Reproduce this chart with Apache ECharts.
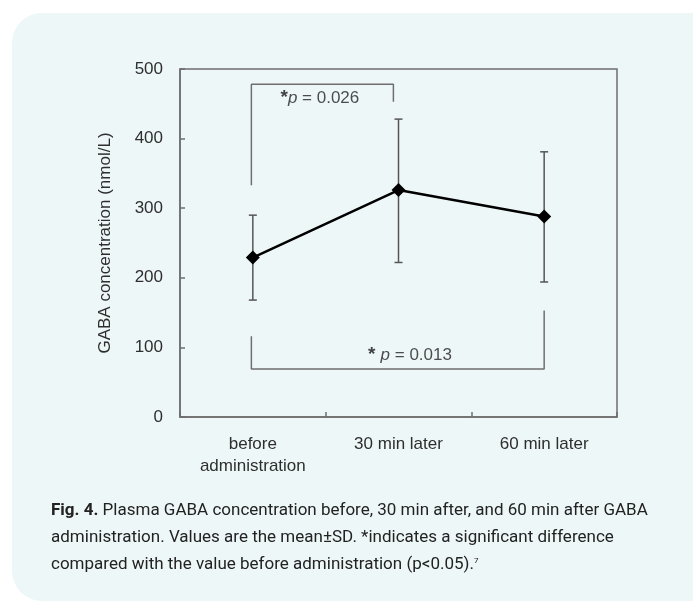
<!DOCTYPE html>
<html>
<head>
<meta charset="utf-8">
<script src="https://cdn.jsdelivr.net/npm/echarts@6/dist/echarts.min.js"></script>
<style>
html,body{margin:0;padding:0;background:#ffffff;}
#chart{width:693px;height:602px;}
</style>
</head>
<body>
<div id="chart"></div>
<script>
// ---- data ----
var categories = ['before\nadministration', '30 min later', '60 min later'];
var means = [229, 326, 288];
var sdLow = [168, 222, 194];
var sdHigh = [290, 428, 381];
var yMin = 0, yMax = 500, yInterval = 100;
// significance brackets (x in category-units 0..3, y in nmol/L)
var bracket1X = [0.49, 0.49, 1.465, 1.465];
var bracket1Y = [333, 478, 478, 453];
var bracket2X = [0.49, 0.49, 2.5, 2.5];
var bracket2Y = [116, 69, 69, 153];
var sigLabels = [
  { x: 0.69, y: 458, star: '*', p: 'p', rest: ' = 0.026' },
  { x: 1.29, y: 89, star: '* ', p: 'p', rest: ' = 0.013' }
];
var captionLines = [
  ['Fig. 4.', ' Plasma GABA concentration before, 30 min after, and 60 min after GABA'],
  ['', 'administration. Values are the mean±SD. *indicates a significant difference'],
  ['', 'compared with the value before administration (p<0.05).']
];

var axisColor = '#6e6e6e';
var textColor = '#2e2e2e';
var fontFam = '"Liberation Sans", Arial, Helvetica, sans-serif';

function zip(xs, ys) { return xs.map(function (x, i) { return [x, ys[i]]; }); }

var errData = categories.map(function (c, i) { return [i, sdLow[i], sdHigh[i]]; });

var chart = echarts.init(document.getElementById('chart'));

var graphics = [
  {
    type: 'rect', z: -10, silent: true,
    shape: { x: 12, y: 13, width: 720, height: 588, r: 30 },
    style: { fill: '#eef7f8' }
  }
];
var capY = [511, 538, 565];
captionLines.forEach(function (ln, i) {
  var txt = (ln[0] ? '{b|' + ln[0] + '}' : '') + '{n|' + ln[1] + '}' + (i === 2 ? '{sup|7}' : '');
  graphics.push({
    type: 'text', z: 10,
    style: {
      x: 51, y: capY[i], text: txt, verticalAlign: 'middle',
      rich: {
        b: { fontFamily: 'Roboto, sans-serif', fontSize: 17, fontWeight: 'bold', fill: '#222222' },
        n: { fontFamily: 'Roboto, sans-serif', fontSize: 17, fill: '#222222' },
        sup: { fontFamily: 'Roboto, sans-serif', fontSize: 8, fill: '#222222', verticalAlign: 'top', padding: [0, 0, 9, 0] }
      }
    }
  });
});

var option = {
  animation: false,
  backgroundColor: 'transparent',
  graphic: graphics,
  grid: { left: 180, top: 69, width: 437, height: 348, show: true, borderColor: axisColor, borderWidth: 1.5, backgroundColor: 'transparent' },
  xAxis: [
    {
      type: 'category', data: categories, boundaryGap: true,
      axisLine: { show: true, lineStyle: { color: axisColor, width: 1.5 } },
      axisTick: { show: true, inside: true, length: 5, lineStyle: { color: axisColor, width: 1.5 } },
      axisLabel: { color: textColor, fontFamily: fontFam, fontSize: 17, margin: 16, lineHeight: 22 },
      splitLine: { show: false }
    },
    {
      type: 'value', min: 0, max: 3, show: false, position: 'bottom'
    }
  ],
  yAxis: {
    type: 'value', min: yMin, max: yMax, interval: yInterval,
    name: 'GABA concentration (nmol/L)', nameLocation: 'middle', nameGap: 66,
    nameTextStyle: { color: textColor, fontFamily: fontFam, fontSize: 17 },
    axisLine: { show: true, lineStyle: { color: axisColor, width: 1.5 } },
    axisTick: { show: true, inside: true, length: 5, lineStyle: { color: axisColor, width: 1.5 } },
    axisLabel: { color: textColor, fontFamily: fontFam, fontSize: 17, margin: 17 },
    splitLine: { show: false }
  },
  series: [
    {
      type: 'custom', xAxisIndex: 0, z: 2, data: errData,
      renderItem: function (params, api) {
        var x = api.value(0);
        var lo = api.coord([x, api.value(1)]);
        var hi = api.coord([x, api.value(2)]);
        var w = 4;
        var st = { stroke: '#555555', lineWidth: 1.5 };
        return {
          type: 'group', children: [
            { type: 'line', shape: { x1: lo[0], y1: lo[1], x2: hi[0], y2: hi[1] }, style: st },
            { type: 'line', shape: { x1: lo[0] - w, y1: lo[1], x2: lo[0] + w, y2: lo[1] }, style: st },
            { type: 'line', shape: { x1: hi[0] - w, y1: hi[1], x2: hi[0] + w, y2: hi[1] }, style: st }
          ]
        };
      }
    },
    {
      type: 'line', xAxisIndex: 0, z: 5, data: means,
      symbol: 'diamond', symbolSize: 14, showSymbol: true,
      lineStyle: { color: '#000000', width: 2.5 },
      itemStyle: { color: '#000000' }
    },
    {
      type: 'line', xAxisIndex: 1, z: 3, data: zip(bracket1X, bracket1Y),
      symbol: 'none', lineStyle: { color: axisColor, width: 1.5 }
    },
    {
      type: 'line', xAxisIndex: 1, z: 3, data: zip(bracket2X, bracket2Y),
      symbol: 'none', lineStyle: { color: axisColor, width: 1.5 }
    },
    {
      type: 'scatter', xAxisIndex: 1, z: 6, symbolSize: 0,
      data: sigLabels.map(function (s) { return { value: [s.x, s.y] }; }),
      label: {
        show: true, position: 'right', distance: 0,
        formatter: function (p) {
          var s = sigLabels[p.dataIndex];
          return '{st|' + s.star + '}{it|' + s.p + '}{n|' + s.rest + '}';
        },
        rich: {
          st: { fontFamily: fontFam, fontSize: 19, color: '#111', fontWeight: 'bold' },
          it: { fontFamily: fontFam, fontSize: 17, color: '#222', fontStyle: 'italic' },
          n: { fontFamily: fontFam, fontSize: 17, color: '#222' }
        }
      }
    }
  ]
};
chart.setOption(option);
</script>
</body>
</html>
